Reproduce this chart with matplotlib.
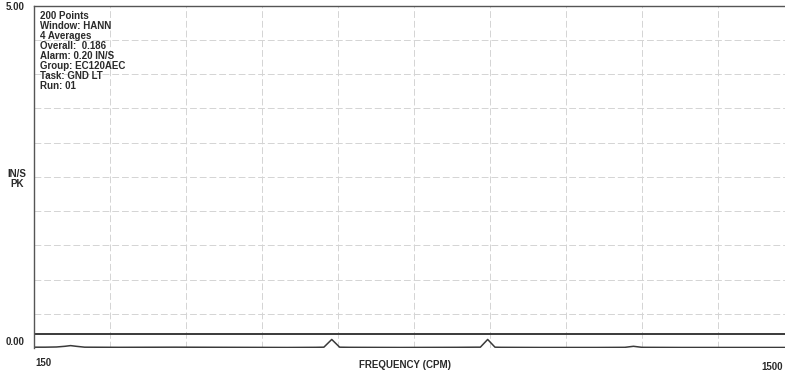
import matplotlib.pyplot as plt
import numpy as np

plt.rcParams['font.family'] = ['Liberation Sans', 'DejaVu Sans']

# spectrum trace (CPM, IN/S PK)
freq = [150, 170, 190, 205, 215, 225, 240, 300, 400, 500, 600, 650, 665, 679, 693,
        710, 800, 900, 935, 943, 956, 969, 980, 1050, 1150, 1200, 1215, 1230, 1300, 1400, 1500]
amp = [0.012, 0.012, 0.015, 0.025, 0.035, 0.025, 0.012, 0.010, 0.012, 0.010, 0.008, 0.010, 0.012, 0.125, 0.012,
       0.010, 0.008, 0.010, 0.012, 0.012, 0.125, 0.012, 0.010, 0.008, 0.008, 0.010, 0.025, 0.010, 0.008, 0.008, 0.008]

alarm = 0.20
info = ["200 Points", "Window: HANN", "4 Averages", "Overall:  0.186",
        "Alarm: 0.20 IN/S", "Group: EC120AEC", "Task: GND LT", "Run: 01"]

fig = plt.figure(figsize=(7.85, 3.74), dpi=100)
ax = fig.add_axes([0.0433, 0.0695, 0.968, 0.915])

ax.plot(freq, amp, color='#3a3a3a', lw=1.1)
ax.axhline(alarm, color='#3a3a3a', lw=1.4)

ax.set_xlim(150, 1500)
ax.set_ylim(0, 5)
ax.set_xticks(np.arange(150, 1501, 135))
ax.set_yticks(np.arange(0, 5.01, 0.5))
ax.grid(True, color='#d4d4d4', lw=0.7, ls=(0, (7, 3)))
ax.tick_params(length=0, labelleft=False, labelbottom=False)
for s in ['left', 'top']:
    ax.spines[s].set_color('#555555')
    ax.spines[s].set_linewidth(1.0)
ax.spines['bottom'].set_visible(False)
ax.spines['right'].set_visible(False)

txt = dict(color='#2a2a2a', fontsize=7, fontweight='bold')
fig.text(6 / 785, 1 - 7 / 374, "5.00", va='center', ha='left', **txt)
fig.text(6 / 785, 1 - 342 / 374, "0.00", va='center', ha='left', **txt)
fig.text(17 / 785, 1 - 179 / 374, "IN/S\nPK", va='center', ha='center', linespacing=0.95, **txt)
fig.text(35 / 785, 1 - 363 / 374, "150", va='center', ha='left', **txt)
fig.text(405 / 785, 1 - 365 / 374, "FREQUENCY (CPM)", va='center', ha='center', **txt)
fig.text(783 / 785, 1 - 367 / 374, "1500", va='center', ha='right', **txt)

ax.text(0.008, 0.985, "\n".join(info), transform=ax.transAxes, va='top', ha='left',
        linespacing=1.0, **txt)

fig.savefig('out.png', dpi=100)
